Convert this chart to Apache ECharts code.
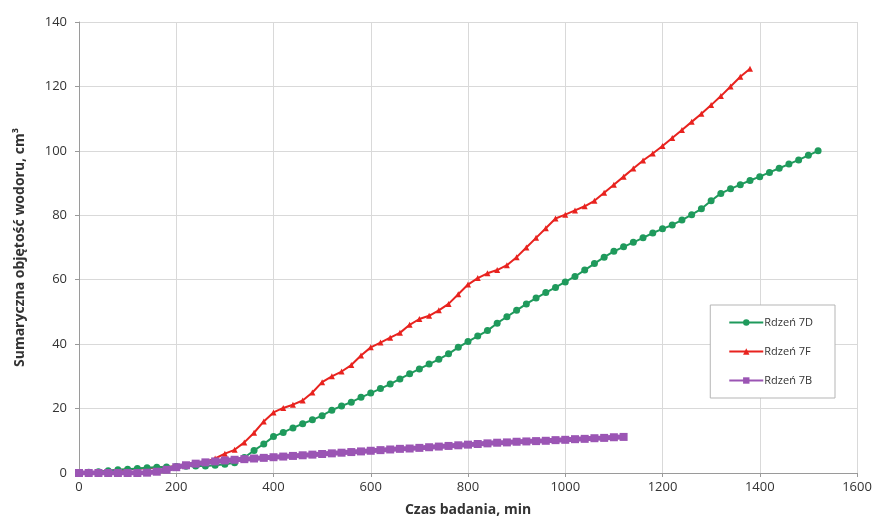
<!DOCTYPE html>
<html>
<head>
<meta charset="utf-8">
<script src="https://cdn.jsdelivr.net/npm/echarts@6/dist/echarts.min.js"></script>
<style>
  html, body { margin: 0; padding: 0; background: #fff; }
  #chart { width: 886px; height: 528px; }
</style>
</head>
<body>
<div id="chart"></div>
<script>
// czas badania [min], co 20 min
const times = [
  0, 20, 40, 60, 80, 100, 120, 140, 160, 180, 200, 220, 240, 260, 280, 300, 320, 340, 360, 380,
  400, 420, 440, 460, 480, 500, 520, 540, 560, 580, 600, 620, 640, 660, 680, 700, 720, 740, 760, 780,
  800, 820, 840, 860, 880, 900, 920, 940, 960, 980, 1000, 1020, 1040, 1060, 1080, 1100, 1120, 1140, 1160, 1180,
  1200, 1220, 1240, 1260, 1280, 1300, 1320, 1340, 1360, 1380, 1400, 1420, 1440, 1460, 1480, 1500, 1520
]

// Rdzeń 7D
const core7D = [
  0, 0.2, 0.4, 0.7, 1.0, 1.2, 1.4, 1.6, 1.8, 1.9, 2.0, 2.1, 2.2, 2.2, 2.4, 2.7, 3.2, 4.8, 7.0, 9.0,
  11.3, 12.6, 14.0, 15.3, 16.5, 17.8, 19.5, 20.8, 22.0, 23.5, 24.8, 26.2, 27.6, 29.2, 30.8, 32.3, 33.8, 35.3, 37.0, 39.0,
  40.8, 42.5, 44.2, 46.5, 48.5, 50.5, 52.5, 54.3, 56.0, 57.6, 59.3, 61.0, 63.0, 65.0, 67.0, 68.8, 70.2, 71.6, 73.0, 74.5,
  75.8, 77.0, 78.5, 80.2, 82.0, 84.5, 86.8, 88.2, 89.5, 90.8, 92.0, 93.3, 94.6, 95.9, 97.2, 98.6, 100.0
]

// Rdzeń 7F
const core7F = [
  0, 0.2, 0.4, 0.6, 0.9, 1.1, 1.3, 1.5, 1.7, 1.9, 2.1, 2.4, 2.8, 3.4, 4.5, 6.0, 7.2, 9.5, 12.5, 16.0,
  18.8, 20.2, 21.2, 22.5, 25.0, 28.2, 30.0, 31.5, 33.5, 36.5, 39.0, 40.5, 42.0, 43.5, 46.0, 47.8, 48.8, 50.5, 52.5, 55.5,
  58.5, 60.5, 62.0, 63.0, 64.5, 67.0, 70.0, 73.0, 76.0, 79.0, 80.2, 81.5, 82.8, 84.5, 87.0, 89.5, 92.0, 94.5, 97.0, 99.2,
  101.5, 104.0, 106.5, 109.0, 111.5, 114.2, 117.0, 120.0, 123.0, 125.5
]

// Rdzeń 7B
const core7B = [
  0, 0, 0, 0, 0, 0, 0, 0.1, 0.4, 1.0, 1.8, 2.4, 2.9, 3.3, 3.6, 3.9, 4.1, 4.3, 4.5, 4.7,
  4.9, 5.1, 5.3, 5.5, 5.7, 5.9, 6.1, 6.3, 6.5, 6.7, 6.9, 7.1, 7.3, 7.5, 7.6, 7.8, 8.0, 8.2, 8.4, 8.6,
  8.8, 9.0, 9.2, 9.4, 9.5, 9.7, 9.8, 9.9, 10.0, 10.2, 10.3, 10.5, 10.6, 10.8, 10.9, 11.1, 11.2
]

const pair = (vals) => vals.map((v, i) => [times[i], v])

const chart = echarts.init(document.getElementById('chart'))
const fontFam = '"Open Sans", "Liberation Sans", sans-serif'

chart.setOption({
  backgroundColor: '#ffffff',
  animation: false,
  textStyle: { fontFamily: fontFam },
  grid: {
    left: 79,
    right: 29,
    top: 22,
    bottom: 55
  },
  legend: {
    orient: 'vertical',
    right: 51,
    top: 305,
    padding: [12, 22, 12, 18],
    itemGap: 18,
    itemWidth: 34,
    itemHeight: 8,
    borderColor: '#b5b5b5',
    borderWidth: 1,
    backgroundColor: '#fff',
    textStyle: { fontSize: 11, color: '#333', fontFamily: fontFam, padding: [0, 0, 0, -4] },
    data: ['Rdzeń 7D', 'Rdzeń 7F', 'Rdzeń 7B']
  },
  xAxis: {
    type: 'value',
    min: 0,
    max: 1600,
    interval: 200,
    name: 'Czas badania, min',
    nameLocation: 'middle',
    nameGap: 30,
    nameTextStyle: { fontSize: 14, fontWeight: 'bold', color: '#333' },
    axisLine: { lineStyle: { color: '#9a9a9a' } },
    axisTick: { show: true, length: 4, lineStyle: { color: '#9a9a9a' } },
    axisLabel: { fontSize: 13, color: '#333', margin: 8, formatter: (v) => String(v) },
    splitLine: { show: true, lineStyle: { color: '#d9d9d9' } }
  },
  yAxis: {
    type: 'value',
    min: 0,
    max: 140,
    interval: 20,
    name: 'Sumaryczna objętość wodoru, cm³',
    nameLocation: 'middle',
    nameGap: 52,
    nameTextStyle: { fontSize: 14, fontWeight: 'bold', color: '#333' },
    axisLine: { show: true, lineStyle: { color: '#9a9a9a' } },
    axisTick: { show: true, length: 4, lineStyle: { color: '#9a9a9a' } },
    axisLabel: { fontSize: 13, color: '#333', margin: 12, formatter: (v) => String(v) },
    splitLine: { show: true, lineStyle: { color: '#d9d9d9' } }
  },
  series: [
    {
      name: 'Rdzeń 7D',
      type: 'line',
      symbol: 'circle',
      symbolSize: 7,
      showAllSymbol: true,
      lineStyle: { width: 2, color: '#1f9a5c' },
      itemStyle: { color: '#1f9a5c' },
      data: pair(core7D),
      z: 3
    },
    {
      name: 'Rdzeń 7F',
      type: 'line',
      symbol: 'triangle',
      symbolSize: 6,
      showAllSymbol: true,
      lineStyle: { width: 2, color: '#e8231f' },
      itemStyle: { color: '#e8231f' },
      data: pair(core7F),
      z: 2
    },
    {
      name: 'Rdzeń 7B',
      type: 'line',
      symbol: 'rect',
      symbolSize: 8,
      showAllSymbol: true,
      lineStyle: { width: 5, color: '#9b55b4' },
      itemStyle: { color: '#9b55b4' },
      data: pair(core7B),
      z: 4
    }
  ]
})
</script>
</body>
</html>
